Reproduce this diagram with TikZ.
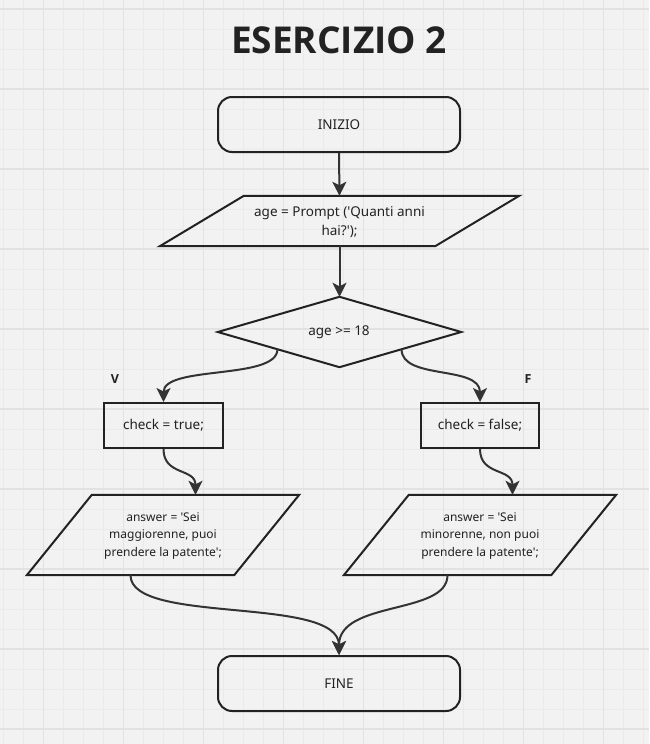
\documentclass[tikz,border=0pt]{standalone}
\usepackage{fontspec}
\setmainfont{Noto Sans}[Ligatures=TeXOff]
\newfontfamily\titlefont{Open Sans}[Ligatures=TeXOff]
\usetikzlibrary{arrows.meta,calc}
\definecolor{bgc}{HTML}{F2F2F2}
\definecolor{minorc}{HTML}{EAEAEA}
\definecolor{majorc}{HTML}{E2E2E2}
\definecolor{ink}{HTML}{222222}
\definecolor{wire}{HTML}{333333}
\tikzset{
  shapeline/.style={draw=ink, line width=2pt, line join=miter},
  termbox/.style={shapeline, rounded corners=14pt, minimum width=242pt, minimum height=55pt, inner sep=0pt, font=\fontsize{13.5}{19}\selectfont},
  procbox/.style={shapeline, minimum height=45pt, inner sep=0pt, font=\fontsize{13.5}{19}\selectfont},
  ghost/.style={inner sep=0pt, align=center},
  txt/.style={font=\fontsize{13.5}{19}\selectfont, text=ink},
  smalltxt/.style={font=\fontsize{12}{17.5}\selectfont, text=ink},
  flow/.style={draw=wire, line width=2pt, -{Stealth[length=14pt,width=14pt,inset=3.5pt]}},
  branchlabel/.style={font=\titlefont\bfseries\fontsize{12.5}{14}\selectfont, text=ink}
}
\begin{document}
\begin{tikzpicture}[x=1pt,y=-1pt]
\useasboundingbox (0,0) rectangle (649,744);
\fill[bgc] (0,0) rectangle (649,744);
\foreach \x in {3.5,23.5,...,645} \draw[minorc, line width=1pt] (\x,0) -- (\x,744);
\foreach \y in {9,29,...,740} \draw[minorc, line width=1pt] (0,\y) -- (649,\y);
\foreach \x in {43.5,123.5,...,645} \draw[majorc, line width=1.3pt] (\x,0) -- (\x,744);
\foreach \y in {9,89,...,740} \draw[majorc, line width=1.3pt] (0,\y) -- (649,\y);

% title
\node[font=\titlefont\bfseries\fontsize{37}{40}\selectfont, text=ink] (title) at (339,40) {ESERCIZIO 2};

% start
\node[termbox, text=ink] (start) at (339,124.5) {INIZIO};

% input parallelogram
\node[ghost, minimum width=359pt, minimum height=50pt] (inp) at (339.5,221) {};
\draw[shapeline] ($(inp.north west)+(84,0)$) -- (inp.north east) -- ($(inp.south east)-(84,0)$) -- (inp.south west) -- cycle;
\node[txt, align=center] (inptxt) at (339.5,222) {age = Prompt ('Quanti anni\\hai?');};

% decision
\node[ghost, minimum width=243pt, minimum height=70pt] (dec) at (339.5,332) {};
\draw[shapeline] (dec.north) -- (dec.east) -- (dec.south) -- (dec.west) -- cycle;
\node[txt] (dectxt) at (339,332) {age >= 18};

% check boxes
\node[procbox, minimum width=119pt, text=ink] (ctrue) at (163.5,425.5) {check = true;};
\node[procbox, minimum width=118pt, text=ink] (cfalse) at (480,425.5) {check = false;};

% answer parallelograms
\node[ghost, minimum width=272pt, minimum height=80pt] (ansl) at (163,535) {};
\draw[shapeline] ($(ansl.north west)+(65,0)$) -- (ansl.north east) -- ($(ansl.south east)-(65,0)$) -- (ansl.south west) -- cycle;
\node[smalltxt, align=center] (ansltxt) at (163,536) {answer = 'Sei\\maggiorenne, puoi\\prendere la patente';};

\node[ghost, minimum width=272pt, minimum height=80pt] (ansr) at (480,535) {};
\draw[shapeline] ($(ansr.north west)+(65,0)$) -- (ansr.north east) -- ($(ansr.south east)-(65,0)$) -- (ansr.south west) -- cycle;
\node[smalltxt, align=center] (ansrtxt) at (480,536) {answer = 'Sei\\minorenne, non puoi\\prendere la patente';};

% end
\node[termbox, text=ink] (fine) at (339,683.5) {FINE};

% labels
\node[branchlabel] (lv) at (115,379) {V};
\node[branchlabel] (lf) at (528,379) {F};

% connector anchor points
\coordinate (dl) at ($(dec.west)!0.49!(dec.south)$);
\coordinate (dr) at ($(dec.east)!0.49!(dec.south)$);
\coordinate (ansltop) at ($(ansl.north)+(32.5,0)$);
\coordinate (ansrtop) at ($(ansr.north)+(32.5,0)$);
\coordinate (anslbot) at ($(ansl.south)-(32.5,0)$);
\coordinate (ansrbot) at ($(ansr.south)-(32.5,0)$);

% connectors
\draw[flow] (start.south) -- (inp.north);
\draw[flow] (inp.south) -- (dec.north);
\draw[flow] (dl) .. controls +(0,31) and ($(ctrue.north)+(0,-37)$) .. (ctrue.north);
\draw[flow] (dr) .. controls +(0,31) and ($(cfalse.north)+(0,-37)$) .. (cfalse.north);
\draw[flow] (ctrue.south) .. controls +(0,27) and ($(ansltop)+(0,-27)$) .. (ansltop);
\draw[flow] (cfalse.south) .. controls +(0,27) and ($(ansrtop)+(0,-27)$) .. (ansrtop);
\draw[flow] (anslbot) .. controls +(0,50) and ($(fine.north)+(0,-60)$) .. (fine.north);
\draw[flow] (ansrbot) .. controls +(0,40) and ($(fine.north)+(0,-55)$) .. (fine.north);
\end{tikzpicture}
\end{document}
